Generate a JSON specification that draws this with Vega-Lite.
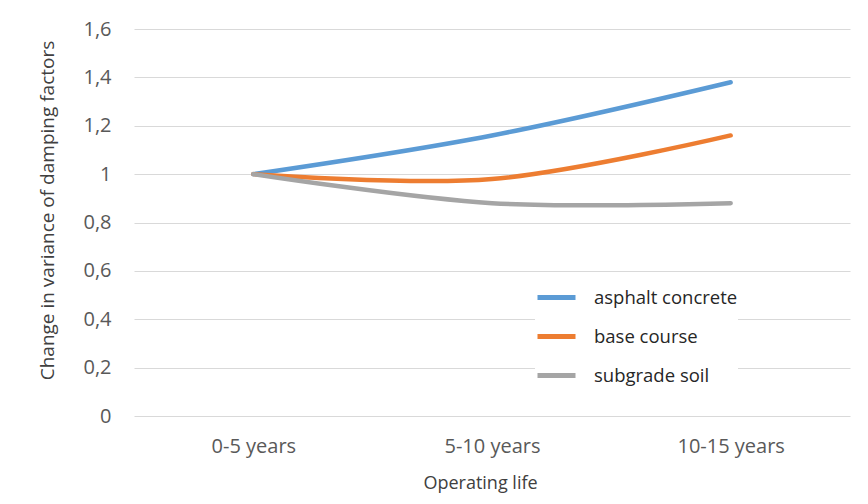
{
  "$schema": "https://vega.github.io/schema/vega-lite/v6.json",
  "width": 716,
  "height": 387,
  "autosize": {"type": "none"},
  "padding": {"left": 134, "top": 29, "right": 18, "bottom": 88},
  "background": "white",
  "data": {
    "values": [
      {"life": "0-5 years", "layer": "asphalt concrete", "change": 1.0},
      {"life": "5-10 years", "layer": "asphalt concrete", "change": 1.16},
      {"life": "10-15 years", "layer": "asphalt concrete", "change": 1.38},
      {"life": "0-5 years", "layer": "base course", "change": 1.0},
      {"life": "5-10 years", "layer": "base course", "change": 0.98},
      {"life": "10-15 years", "layer": "base course", "change": 1.16},
      {"life": "0-5 years", "layer": "subgrade soil", "change": 1.0},
      {"life": "5-10 years", "layer": "subgrade soil", "change": 0.88},
      {"life": "10-15 years", "layer": "subgrade soil", "change": 0.88}
    ]
  },
  "mark": {"type": "line", "interpolate": "cardinal", "strokeWidth": 4.5, "strokeCap": "round"},
  "encoding": {
    "x": {
      "field": "life",
      "type": "ordinal",
      "sort": ["0-5 years", "5-10 years", "10-15 years"],
      "scale": {"type": "point", "padding": 0.5},
      "axis": {
        "title": "Operating life",
        "labelAngle": 0,
        "domain": false,
        "ticks": false,
        "labelPadding": 20,
        "titlePadding": 18,
        "titleX": 346,
        "titleAlign": "center",
        "labelFontSize": 20,
        "titleFontSize": 18
      }
    },
    "y": {
      "field": "change",
      "type": "quantitative",
      "scale": {"domain": [0, 1.6], "nice": false, "zero": true},
      "axis": {
        "title": "Change in variance of damping factors",
        "values": [0, 0.2, 0.4, 0.6, 0.8, 1, 1.2, 1.4, 1.6],
        "labelExpr": "replace(toString(round(datum.value * 10) / 10), '.', ',')",
        "domain": false,
        "ticks": false,
        "labelPadding": 23,
        "titlePadding": 25,
        "titleY": 181,
        "titleAlign": "center",
        "labelFontSize": 20,
        "titleFontSize": 19
      }
    },
    "color": {
      "field": "layer",
      "type": "nominal",
      "scale": {
        "domain": ["asphalt concrete", "base course", "subgrade soil"],
        "range": ["#5B9BD5", "#ED7D31", "#A5A5A5"]
      },
      "legend": {
        "title": null,
        "orient": "none",
        "legendX": 401,
        "legendY": 247,
        "symbolType": "stroke",
        "symbolSize": 1444,
        "symbolStrokeWidth": 5,
        "labelOffset": 16,
        "rowPadding": 7,
        "padding": 0,
        "fillColor": "white",
        "labelFontSize": 18.5,
        "labelColor": "#262626",
        "labelFont": "Open Sans"
      }
    }
  },
  "config": {
    "view": {"stroke": null},
    "font": "Open Sans",
    "axis": {
      "labelFont": "Open Sans",
      "titleFont": "Open Sans",
      "labelColor": "#595959",
      "titleColor": "#404040",
      "titleFontWeight": "normal",
      "gridColor": "#D9D9D9",
      "gridWidth": 1.2
    }
  }
}
